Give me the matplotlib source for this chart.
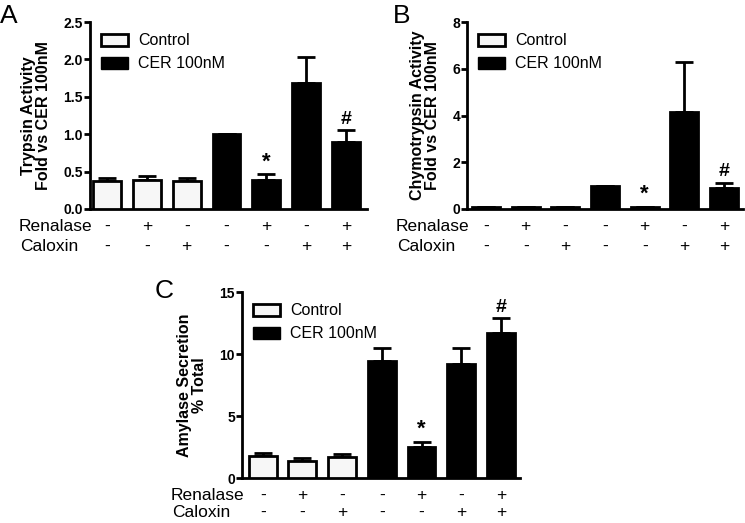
import matplotlib
matplotlib.use("Agg")
import matplotlib.pyplot as plt
from matplotlib.patches import Patch

plt.rcParams['font.family'] = ['Liberation Sans', 'DejaVu Sans']

# treatment signs under each bar
renalase = ['-', '+', '-', '-', '+', '-', '+']
caloxin = ['-', '-', '+', '-', '-', '+', '+']
is_control = [True, True, True, False, False, False, False]

# panel A: trypsin activity
trypsin = [0.37, 0.39, 0.37, 1.0, 0.39, 1.68, 0.90]
trypsin_err = [0.04, 0.05, 0.04, 0.0, 0.08, 0.35, 0.16]
trypsin_marks = ['', '', '', '', '*', '', '#']

# panel B: chymotrypsin activity
chymo = [0.08, 0.07, 0.10, 1.0, 0.07, 4.15, 0.90]
chymo_err = [0.0, 0.0, 0.0, 0.0, 0.0, 2.15, 0.22]
chymo_marks = ['', '', '', '', '*', '', '#']

# panel C: amylase secretion
amylase = [1.8, 1.4, 1.7, 9.4, 2.5, 9.2, 11.7]
amylase_err = [0.2, 0.2, 0.2, 1.1, 0.4, 1.3, 1.2]
amylase_marks = ['', '', '', '', '*', '', '#']

W, H = 745, 523
fig = plt.figure(figsize=(W / 100, H / 100), dpi=100)


def px_axes(x0, y0, x1, y1):
    return fig.add_axes([x0 / W, 1 - y1 / H, (x1 - x0) / W, (y1 - y0) / H])


def draw_panel(ax, vals, errs, marks, ymax, yticks, fmt, ylabel, xlim, mark_pad, rows):
    x = list(range(len(vals)))
    colors = ['#f7f7f7' if c else 'black' for c in is_control]
    ax.bar(x, vals, width=0.7, color=colors, edgecolor='black', linewidth=2, zorder=3)
    ax.errorbar(x, vals, yerr=[[0] * len(vals), errs], fmt='none', ecolor='black',
                elinewidth=2, capsize=6.5, capthick=2, zorder=2)
    for xi, v, e, m in zip(x, vals, errs, marks):
        if m:
            ax.text(xi, v + e + mark_pad, m, ha='center', va='bottom',
                    fontsize=16 if m == '*' else 14, fontweight='bold')
    ax.set_xlim(*xlim)
    ax.set_ylim(0, ymax)
    ax.set_yticks(yticks)
    ax.set_yticklabels([fmt.format(t) for t in yticks], fontsize=10, fontweight='bold')
    ax.set_xticks([])
    for s in ['top', 'right']:
        ax.spines[s].set_visible(False)
    for s in ['left', 'bottom']:
        ax.spines[s].set_linewidth(2)
    ax.tick_params(axis='y', width=2, length=4, pad=1)
    ax.set_ylabel(ylabel, fontsize=11.5, fontweight='bold', linespacing=1.0, labelpad=9)
    handles = [Patch(facecolor='#f7f7f7', edgecolor='black', linewidth=2),
               Patch(facecolor='black', edgecolor='black')]
    ax.legend(handles, ['Control', 'CER 100nM'], loc='upper left', frameon=False,
              fontsize=11.5, handlelength=1.7, handleheight=0.8, labelspacing=0.5,
              handletextpad=0.6, borderaxespad=0.3, bbox_to_anchor=(0.0, 1.0))
    # treatment rows under the axis
    r_y, c_y = rows
    for xi, r, c in zip(x, renalase, caloxin):
        ax.text(xi, r_y, r, transform=ax.get_xaxis_transform(), ha='center',
                va='center', fontsize=12.5)
        ax.text(xi, c_y, c, transform=ax.get_xaxis_transform(), ha='center',
                va='center', fontsize=12.5)
    ax.text(xlim[0] + 0.05, r_y, 'Renalase', transform=ax.get_xaxis_transform(),
            ha='right', va='center', fontsize=12.5)
    ax.text(xlim[0] - 0.3, c_y, 'Caloxin', transform=ax.get_xaxis_transform(),
            ha='right', va='center', fontsize=12.5)


axA = px_axes(90, 22, 367, 209)
draw_panel(axA, trypsin, trypsin_err, trypsin_marks, 2.5, [0, 0.5, 1.0, 1.5, 2.0, 2.5],
           '{:.1f}', 'Trypsin Activity\nFold vs CER 100nM', (-0.43, 6.53), 0.02,
           (-0.095, -0.2))

axB = px_axes(467, 22, 743, 209)
draw_panel(axB, chymo, chymo_err, chymo_marks, 8, [0, 2, 4, 6, 8],
           '{:.0f}', 'Chymotrypsin Activity\nFold vs CER 100nM', (-0.48, 6.48), 0.1,
           (-0.095, -0.2))

axC = px_axes(242, 292, 520, 478)
draw_panel(axC, amylase, amylase_err, amylase_marks, 15, [0, 5, 10, 15],
           '{:.0f}', 'Amylase Secretion\n% Total', (-0.52, 6.48), 0.2,
           (-0.095, -0.185))

fig.text(0 / W, 1 - 23 / H, 'A', fontsize=19, ha='left', va='baseline')
fig.text(393 / W, 1 - 23 / H, 'B', fontsize=19, ha='left', va='baseline')
fig.text(155 / W, 1 - 298 / H, 'C', fontsize=19, ha='left', va='baseline')

fig.savefig('out.png', dpi=100)
